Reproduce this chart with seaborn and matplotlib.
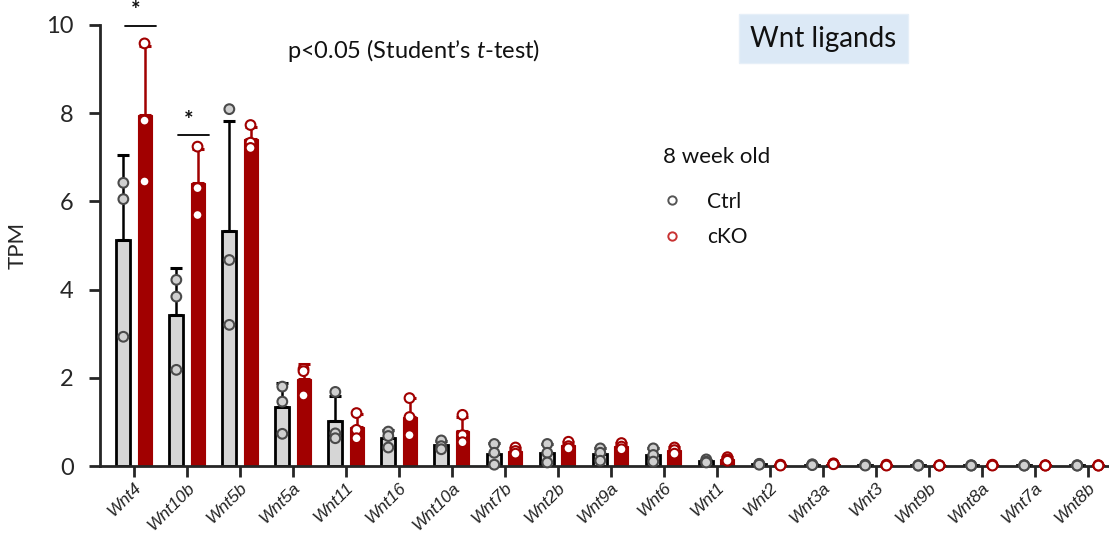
import numpy as np
import pandas as pd
import matplotlib
matplotlib.use("Agg")
import matplotlib.pyplot as plt
import seaborn as sns
from matplotlib.lines import Line2D

# ----------------------------
# Data (TPM, 3 replicates per group)
# ----------------------------
genes = ['Wnt4', 'Wnt10b', 'Wnt5b', 'Wnt5a', 'Wnt11', 'Wnt16', 'Wnt10a',
         'Wnt7b', 'Wnt2b', 'Wnt9a', 'Wnt6', 'Wnt1', 'Wnt2', 'Wnt3a', 'Wnt3',
         'Wnt9b', 'Wnt8a', 'Wnt7a', 'Wnt8b']

ctrl_rep1 = [6.42, 4.22, 8.09, 1.80, 1.68, 0.78, 0.58, 0.50, 0.50, 0.40, 0.40, 0.15, 0.05, 0.04, 0.03, 0.02, 0.02, 0.02, 0.02]
ctrl_rep2 = [6.05, 3.84, 4.67, 1.46, 0.74, 0.68, 0.45, 0.30, 0.30, 0.30, 0.25, 0.10, 0.04, 0.03, 0.02, 0.01, 0.01, 0.01, 0.01]
ctrl_rep3 = [2.93, 2.18, 3.20, 0.73, 0.63, 0.42, 0.38, 0.03, 0.08, 0.12, 0.10, 0.08, 0.03, 0.02, 0.01, 0.01, 0.01, 0.01, 0.01]

cko_rep1 = [9.58, 7.24, 7.73, 2.20, 1.20, 1.54, 1.16, 0.42, 0.55, 0.52, 0.42, 0.20, 0.03, 0.06, 0.03, 0.02, 0.03, 0.02, 0.02]
cko_rep2 = [7.83, 6.30, 7.33, 2.15, 0.82, 1.11, 0.70, 0.34, 0.45, 0.44, 0.36, 0.15, 0.02, 0.05, 0.02, 0.01, 0.02, 0.01, 0.01]
cko_rep3 = [6.45, 5.69, 7.21, 1.60, 0.63, 0.70, 0.54, 0.28, 0.40, 0.38, 0.28, 0.12, 0.01, 0.04, 0.01, 0.01, 0.01, 0.01, 0.01]

groups = ['Ctrl', 'cKO']
sig_genes = ['Wnt4', 'Wnt10b']

# ----------------------------
# Long table
# ----------------------------
rows = []
for g, reps in [('Ctrl', [ctrl_rep1, ctrl_rep2, ctrl_rep3]), ('cKO', [cko_rep1, cko_rep2, cko_rep3])]:
    for rep in reps:
        for gene, v in zip(genes, rep):
            rows.append({'gene': gene, 'group': g, 'tpm': v})
df = pd.DataFrame(rows)

RED = '#a10000'
GRAY = '#d6d6d6'

sns.set_style("ticks")
plt.rcParams['font.family'] = ['Lato', 'DejaVu Sans']
plt.rcParams['mathtext.fontset'] = 'custom'
plt.rcParams['mathtext.it'] = 'Lato:italic'
plt.rcParams['mathtext.rm'] = 'Lato'
plt.rcParams['text.color'] = '#111111'

fig = plt.figure(figsize=(11.09, 5.41), dpi=100)
ax = fig.add_axes([0.0902, 0.1386, 0.9098, 0.8154])

sns.barplot(data=df, x='gene', y='tpm', hue='group', order=genes, hue_order=groups,
            palette={'Ctrl': GRAY, 'cKO': RED}, errorbar=None, width=0.8, gap=0.34,
            saturation=1, ax=ax, legend=False, zorder=2)

# bar edges + upper-only SD error bars
stats = df.groupby(['group', 'gene'])['tpm'].agg(['mean', 'std'])
for cont, g in zip(ax.containers, groups):
    col = 'black' if g == 'Ctrl' else RED
    for bar, gene in zip(cont, genes):
        bar.set_edgecolor(col)
        bar.set_linewidth(2.0 if g == 'Ctrl' else 0.8)
        xc = bar.get_x() + bar.get_width() / 2
        m, s = stats.loc[(g, gene), 'mean'], stats.loc[(g, gene), 'std']
        ax.errorbar([xc], [m], yerr=[[0], [s]], fmt='none', ecolor=col,
                    elinewidth=1.8, capsize=4, capthick=2.2, zorder=3)

# replicate points
n_before = len(ax.collections)
sns.stripplot(data=df, x='gene', y='tpm', hue='group', order=genes, hue_order=groups,
              palette={'Ctrl': '#d0d0d0', 'cKO': 'white'}, dodge=True, jitter=False,
              size=7, linewidth=1.5, ax=ax, legend=False, zorder=4)
for coll in ax.collections[n_before:]:
    fc = coll.get_facecolor()
    if len(fc) and fc[0][0] > 0.95:
        coll.set_edgecolor(RED)
    else:
        coll.set_edgecolor('#4a4a4a')
    coll.set_clip_on(False)

# ----------------------------
# Axes styling
# ----------------------------
ax.set_ylim(0, 10)
ax.set_xlim(-0.64, 18.4)
ax.set_yticks([0, 2, 4, 6, 8, 10])
ax.set_xlabel('')
ax.set_ylabel('TPM', fontsize=16, labelpad=13)
sns.despine(ax=ax)
for sp in ['left', 'bottom']:
    ax.spines[sp].set_linewidth(2)
ax.tick_params(axis='y', labelsize=17, length=8, width=2, pad=11)
ax.tick_params(axis='x', length=8, width=2, pad=2)
ax.set_xticks(range(len(genes)))
ax.set_xticklabels(genes, rotation=45, ha='right', rotation_mode='anchor',
                   family='Liberation Sans', style='italic', fontsize=12.5, color='#222222')

# significance marks
for gene, ytop in zip(sig_genes, [9.98, 7.5]):
    i = genes.index(gene)
    ax.plot([i - 0.17, i + 0.42], [ytop, ytop], color='black', lw=1.3, clip_on=False)
    ax.text(i + 0.03, ytop + 0.1, '*', ha='center', va='bottom', fontsize=16,
            fontweight='bold', clip_on=False)

fig.text(0.3733, 0.907, 'p<0.05 (Student\u2019s $t$-test)', fontsize=17, va='center', ha='center')
fig.text(0.7426, 0.9288, 'Wnt ligands', fontsize=20, va='center', ha='center',
         bbox=dict(boxstyle='square,pad=0.4', facecolor='#dce9f6', edgecolor='#e6eff8'))

handles = [Line2D([], [], marker='o', ls='none', markersize=6, markerfacecolor='white',
                  markeredgecolor='#555555', markeredgewidth=1.4),
           Line2D([], [], marker='o', ls='none', markersize=6, markerfacecolor='white',
                  markeredgecolor='#c83232', markeredgewidth=1.4)]
leg = fig.legend(handles, groups, title='8 week old', loc='upper left',
                 bbox_to_anchor=(0.583, 0.760), frameon=False, fontsize=15,
                 title_fontsize=16, handlelength=0.8, handletextpad=1.3,
                 labelspacing=0.75, alignment='left', borderpad=0.3)
leg._legend_box.sep = 18  # a bit more room under the title

fig.savefig('out.png', dpi=100)
